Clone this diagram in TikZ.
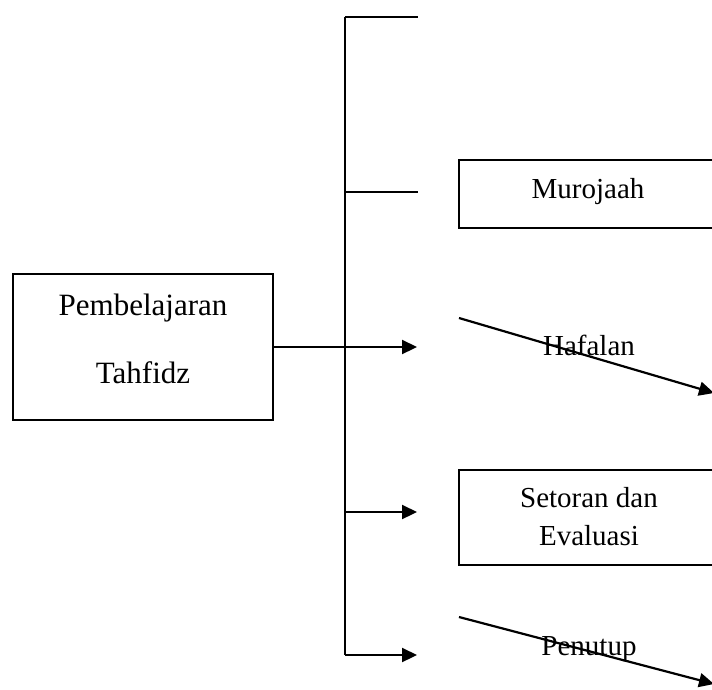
\documentclass[tikz,border=0pt]{standalone}
\usepackage{fontspec}
\setmainfont{Liberation Serif}
\usetikzlibrary{arrows.meta}
\tikzset{
  frame/.style={draw, line width=2.2pt, rectangle, inner sep=0pt},
  txtbig/.style={anchor=base, inner sep=0pt, font=\fontsize{31}{36}\selectfont},
  txt/.style={anchor=base, inner sep=0pt, font=\fontsize{29}{34}\selectfont},
  link/.style={line width=2.2pt},
  arr/.style={line width=2.2pt, -{Triangle[length=15pt,width=14pt]}},
}
\begin{document}
\begin{tikzpicture}[x=1pt, y=-1pt]
\useasboundingbox (0,0) rectangle (712,689);
\clip (0,0) rectangle (712,689);

% root box
\node[frame, minimum width=260pt, minimum height=146pt] (main) at (143,347) {};
\node[txtbig] (mainA) at (143,315) {Pembelajaran};
\node[txtbig] (mainB) at (143,383) {Tahfidz};

% vertical bus and its branch points
\coordinate (btop) at (345,17);
\coordinate (bmur) at (345,192);
\coordinate (bmid) at (345,347);
\coordinate (bset) at (345,512);
\coordinate (bbot) at (345,655);

% branch ends
\coordinate (etop) at (418,17);
\coordinate (emur) at (418,192);
\coordinate (emid) at (417,347);
\coordinate (eset) at (417,512);
\coordinate (ebot) at (417,655);

\draw[link] (main.east) -- (bmid);
\draw[link] (btop) -- (bbot);
\draw[link] (btop) -- (etop);
\draw[link] (bmur) -- (emur);
\draw[arr] (bmid) -- (emid);
\draw[arr] (bset) -- (eset);
\draw[arr] (bbot) -- (ebot);

% right column
\node[frame, minimum width=258pt, minimum height=68pt] (mur) at (588,194) {};
\node[txt] (murT) at (588,198) {Murojaah};

\node[txt] (haf) at (589,355) {Hafalan};
\coordinate (hafS) at (459,318);
\coordinate (hafE) at (714,393);
\draw[arr] (hafS) -- (hafE);

\node[frame, minimum width=258pt, minimum height=95pt] (set) at (588,517.5) {};
\node[txt] (setA) at (589,507) {Setoran dan};
\node[txt] (setB) at (589,545) {Evaluasi};

\node[txt] (pen) at (589,655) {Penutup};
\coordinate (penS) at (459,617);
\coordinate (penE) at (714,684);
\draw[arr] (penS) -- (penE);
\end{tikzpicture}
\end{document}
